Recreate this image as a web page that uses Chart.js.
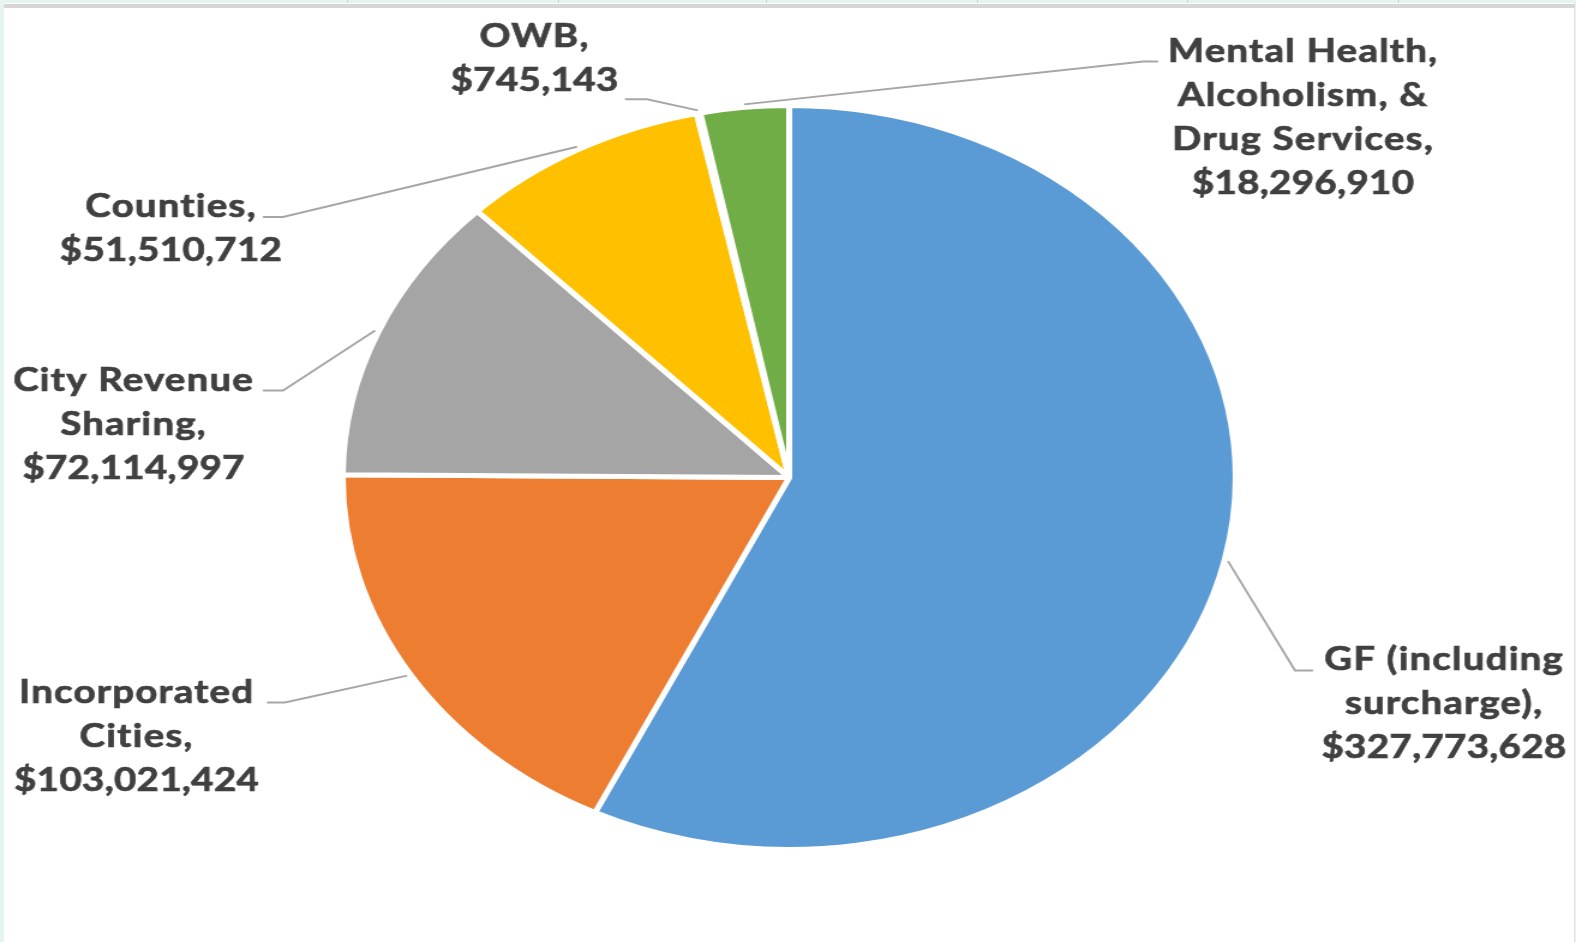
<!DOCTYPE html>
<html>
<head>
<meta charset="utf-8">
<title>Revenue Distribution</title>
<script src="https://cdn.jsdelivr.net/npm/chart.js@4.4.0/dist/chart.umd.min.js"></script>
<style>
    html, body {
        margin: 0;
        padding: 0;
        background: #e5f4ee;
        overflow: hidden;
    }
    #frame {
        position: relative;
        width: 1576px;
        height: 942px;
    }
    #sheet {
        position: absolute;
        left: 4px;
        top: 3px;
        width: 1570px;
        height: 939px;
        background: #ffffff;
        border-right: 1px solid #e2e2e2;
    }
    #sheet_bar {
        position: absolute;
        left: 4px;
        top: 4px;
        width: 1571px;
        height: 4px;
        background: #d6d6d6;
    }
    .col_tick {
        position: absolute;
        top: 0;
        width: 1px;
        height: 3px;
        background: #c9d3cf;
    }
    #chart {
        position: absolute;
        left: 0;
        top: 0;
    }
</style>
</head>
<body>
<div id="frame">
    <div id="sheet"></div>
    <div id="sheet_bar"></div>
    <div class="col_tick" style="left:347px"></div>
    <div class="col_tick" style="left:558px"></div>
    <div class="col_tick" style="left:766px"></div>
    <div class="col_tick" style="left:977px"></div>
    <div class="col_tick" style="left:1187px"></div>
    <div class="col_tick" style="left:1398px"></div>
    <!-- drawn narrow, shown stretched sideways like the sheet it came from -->
    <canvas id="chart" width="1313" height="942" style="width:1576px;height:942px"></canvas>
</div>

<script>
const categories = [
    'GF (including surcharge)',
    'Incorporated Cities',
    'City Revenue Sharing',
    'Counties',
    'OWB',
    'Mental Health, Alcoholism, & Drug Services'
];

const amounts = [327773628, 103021424, 72114997, 51510712, 745143, 18296910];

const sliceColors = ['#5B9BD5', '#ED7D31', '#A5A5A5', '#FFC000', '#4472C4', '#70AD47'];

// wrapped name lines for each data label (value line is added from amounts)
const labelLines = [
    ['GF (including', 'surcharge),'],
    ['Incorporated', 'Cities,'],
    ['City Revenue', 'Sharing,'],
    ['Counties,'],
    ['OWB,'],
    ['Mental Health,', 'Alcoholism, &', 'Drug Services,']
];

// where each label sits on the canvas: text centre x, first baseline, leader elbow and end
const labelPlacement = [
    { x: 1202.6, y: 670,   elbow: [1078.9, 670.5], end: 1093.9 },
    { x: 113.3,  y: 702.5, elbow: [237.4, 702.5],  end: 222.4 },
    { x: 110.8,  y: 390.5, elbow: [235.8, 390.5],  end: 219.1 },
    { x: 142.0,  y: 217,   elbow: [235.8, 217],    end: 219.1 },
    { x: 444.9,  y: 47,    elbow: [539.0, 99.3],   end: 520.7 },
    { x: 1085.1, y: 61.5,  elbow: [952.3, 61.5],   end: 964.8 }
];

const LINE_GAP = 44.2;

function formatDollars(num) {
    return '$' + Number(num).toLocaleString('en-US');
}

const sliceLabels = {
    id: 'sliceLabels',
    afterDatasetsDraw(chart) {
        const ctx = chart.ctx;
        const arcs = chart.getDatasetMeta(0).data;

        ctx.save();
        arcs.forEach((arc, i) => {
            const p = arc.getProps(['x', 'y', 'startAngle', 'endAngle', 'outerRadius'], true);
            const mid = (p.startAngle + p.endAngle) / 2;
            const r = p.outerRadius + 3;
            const place = labelPlacement[i];

            // leader line
            ctx.beginPath();
            ctx.moveTo(p.x + Math.cos(mid) * r, p.y + Math.sin(mid) * r);
            ctx.lineTo(place.elbow[0], place.elbow[1]);
            ctx.lineTo(place.end, place.elbow[1]);
            ctx.strokeStyle = '#a6a6a6';
            ctx.lineWidth = 1.9;
            ctx.stroke();

            // label text; names spaced out a little (also keeps "ti" from joining)
            const names = labelLines[i];
            const lines = names.concat([formatDollars(amounts[i])]);
            ctx.fillStyle = '#404040';
            ctx.strokeStyle = '#404040';
            ctx.lineWidth = 0.7;
            ctx.font = 'bold 32px Lato, "Open Sans", sans-serif';
            ctx.textAlign = 'center';
            ctx.textBaseline = 'alphabetic';
            lines.forEach((line, k) => {
                const ty = place.y + k * LINE_GAP;
                ctx.letterSpacing = k < names.length ? '1px' : '0.3px';
                ctx.fillText(line, place.x + 0.5, ty);
                ctx.strokeText(line, place.x + 0.5, ty);
            });
            ctx.letterSpacing = '0px';
        });
        ctx.restore();
    }
};

function renderChart() {
    const ctx = document.getElementById('chart').getContext('2d');

    window.revenueChart = new Chart(ctx, {
        type: 'pie',
        data: {
            labels: categories,
            datasets: [{
                data: amounts,
                backgroundColor: sliceColors,
                borderColor: '#ffffff',
                borderWidth: 5,
                hoverBorderWidth: 5,
                hoverOffset: 0
            }]
        },
        options: {
            responsive: false,
            animation: false,
            radius: 372,
            layout: {
                padding: { left: 2, right: 0, top: 13, bottom: 0 }
            },
            plugins: {
                legend: { display: false },
                tooltip: { enabled: false }
            }
        },
        plugins: [sliceLabels]
    });
}

renderChart();
</script>
</body>
</html>
